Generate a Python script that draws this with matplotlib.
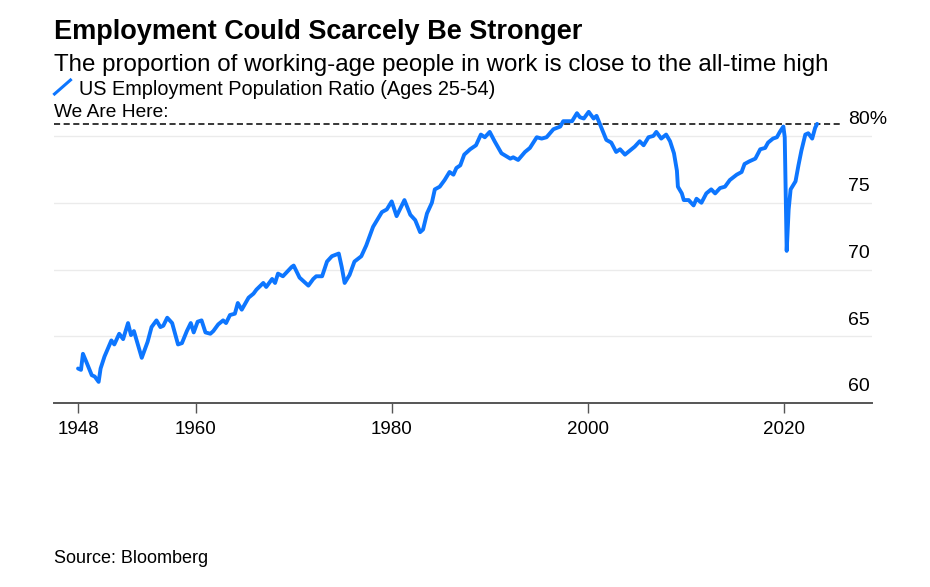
import matplotlib.pyplot as plt
from matplotlib.lines import Line2D
import matplotlib.transforms as mtransforms

plt.rcParams['font.family'] = ['Liberation Sans', 'DejaVu Sans']

# prime-age employment-population ratio
years = [1948.0, 1948.3, 1948.5, 1948.9, 1949.4, 1949.7, 1950.1, 1950.3, 1950.7, 1951.4,
         1951.7, 1952.2, 1952.6, 1953.1, 1953.4, 1953.7, 1954.5, 1955.1, 1955.5, 1956.0,
         1956.4, 1956.7, 1957.1, 1957.6, 1958.2, 1958.6, 1959.1, 1959.5, 1959.8, 1960.2,
         1960.6, 1961.0, 1961.5, 1961.8, 1962.3, 1962.8, 1963.1, 1963.5, 1964.0, 1964.3,
         1964.7, 1965.4, 1965.9, 1966.2, 1966.9, 1967.2, 1967.8, 1968.1, 1968.4, 1968.9,
         1969.8, 1970.0, 1970.6, 1971.5, 1972.0, 1972.3, 1972.9, 1973.4, 1973.9, 1974.6,
         1974.9, 1975.2, 1975.7, 1976.2, 1976.9, 1977.4, 1978.1, 1979.0, 1979.5, 1980.0,
         1980.5, 1981.3, 1981.9, 1982.4, 1982.9, 1983.2, 1983.6, 1984.1, 1984.4, 1984.9,
         1985.4, 1985.9, 1986.3, 1986.6, 1987.0, 1987.4, 1988.0, 1988.6, 1989.1, 1989.5,
         1990.0, 1990.5, 1991.2, 1992.1, 1992.4, 1992.9, 1993.6, 1994.1, 1994.8, 1995.3,
         1995.8, 1996.5, 1997.2, 1997.5, 1998.4, 1998.9, 1999.2, 1999.6, 2000.1, 2000.6,
         2000.9, 2001.4, 2001.9, 2002.4, 2002.9, 2003.3, 2003.8, 2004.3, 2004.8, 2005.3,
         2005.7, 2006.2, 2006.7, 2007.0, 2007.5, 2008.0, 2008.4, 2008.8, 2009.1, 2009.2,
         2009.6, 2009.8, 2010.3, 2010.8, 2011.1, 2011.6, 2012.1, 2012.6, 2013.0, 2013.5,
         2014.0, 2014.5, 2015.2, 2015.7, 2016.0, 2016.5, 2017.1, 2017.6, 2018.1, 2018.4,
         2018.9, 2019.3, 2019.6, 2019.96, 2020.1, 2020.3, 2020.5, 2020.7, 2021.2, 2021.5,
         2021.8, 2022.2, 2022.5, 2022.9, 2023.2, 2023.4]
ratio = [62.6, 62.5, 63.7, 63.0, 62.1, 62.0, 61.6, 62.6, 63.5, 64.7,
         64.4, 65.2, 64.8, 66.0, 65.1, 65.4, 63.4, 64.6, 65.7, 66.2,
         65.7, 65.8, 66.4, 66.0, 64.4, 64.5, 65.4, 66.0, 65.3, 66.1,
         66.2, 65.3, 65.2, 65.4, 65.9, 66.2, 66.0, 66.6, 66.7, 67.5,
         67.0, 67.9, 68.2, 68.5, 69.0, 68.7, 69.3, 69.0, 69.7, 69.5,
         70.2, 70.3, 69.4, 68.8, 69.3, 69.5, 69.5, 70.6, 71.0, 71.2,
         70.2, 69.0, 69.6, 70.6, 71.0, 71.8, 73.2, 74.3, 74.5, 75.1,
         74.0, 75.2, 74.1, 73.7, 72.8, 73.0, 74.2, 75.0, 76.0, 76.2,
         76.7, 77.3, 77.1, 77.6, 77.8, 78.6, 79.0, 79.3, 80.1, 79.9,
         80.3, 79.6, 78.7, 78.3, 78.4, 78.2, 78.8, 79.1, 79.9, 79.8,
         79.9, 80.5, 80.7, 81.1, 81.1, 81.7, 81.4, 81.3, 81.8, 81.3,
         81.5, 80.6, 79.7, 79.5, 78.8, 79.0, 78.6, 78.9, 79.2, 79.6,
         79.3, 79.9, 80.0, 80.3, 79.8, 80.1, 79.6, 78.7, 77.4, 76.2,
         75.7, 75.2, 75.2, 74.8, 75.3, 75.0, 75.7, 76.0, 75.7, 76.1,
         76.2, 76.7, 77.1, 77.3, 77.9, 78.1, 78.3, 79.0, 79.1, 79.5,
         79.8, 79.9, 80.3, 80.7, 79.9, 71.4, 74.5, 76.0, 76.6, 77.8,
         78.9, 80.1, 80.2, 79.8, 80.6, 80.9]

current_level = 80.87
x_ticks = [1948, 1960, 1980, 2000, 2020]
y_ticks = [60, 65, 70, 75, 80]
y_labels = ['60', '65', '70', '75', '80%']

blue = '#0D76FF'

fig = plt.figure(figsize=(9.3, 5.87), dpi=100)
ax = fig.add_axes([0.0581, 0.3130, 0.8795, 0.5124])

for y in y_ticks[1:]:
    ax.axhline(y, color='#ebebeb', lw=1.0, zorder=1)

ax.plot(years, ratio, color=blue, lw=2.8, solid_joinstyle='round',
        solid_capstyle='round', zorder=3)

# "we are here" reference line
ax.axhline(current_level, xmin=0, xmax=0.961, color='black', lw=1.1,
           dashes=(4, 2.3), zorder=2)
here = mtransforms.offset_copy(ax.get_yaxis_transform(), fig=fig, x=0, y=5, units='points')
ax.text(0, current_level, 'We Are Here:', transform=here,
        fontsize=13.8, ha='left', va='baseline')

ax.set_xlim(1945.55, 2029.0)
ax.set_ylim(60, 82.5)

for s in ['top', 'right', 'left']:
    ax.spines[s].set_visible(False)
ax.spines['bottom'].set_color('#555555')
ax.spines['bottom'].set_linewidth(1.4)

ax.set_xticks(x_ticks)
ax.set_xticklabels([str(t) for t in x_ticks])
ax.tick_params(axis='x', length=7, width=1, color='#555555', labelsize=13.5, pad=6)
ax.set_yticks([])

offset = mtransforms.offset_copy(ax.transData, fig=fig, x=0, y=8.5, units='points')
trans = mtransforms.blended_transform_factory(ax.transAxes, offset)
for y, lab in zip(y_ticks, y_labels):
    ax.text(0.9707, y, lab, transform=trans, fontsize=14, ha='left', va='baseline')

fig.text(0.058, 0.9336, 'Employment Could Scarcely Be Stronger',
         fontsize=19.5, fontweight='bold', ha='left', va='baseline')
fig.text(0.058, 0.879, 'The proportion of working-age people in work is close to the all-time high',
         fontsize=17.4, ha='left', va='baseline')
fig.add_artist(Line2D([54.5 / 930, 70.5 / 930], [1 - 94 / 587, 1 - 80 / 587],
                      color=blue, lw=2.2, transform=fig.transFigure))
fig.text(79 / 930, 1 - 95 / 587, 'US Employment Population Ratio (Ages 25-54)',
         fontsize=14.3, ha='left', va='baseline')
fig.text(0.058, 1 - 563 / 587, 'Source: Bloomberg', fontsize=13, ha='left', va='baseline')

fig.savefig('out.png', dpi=100)
